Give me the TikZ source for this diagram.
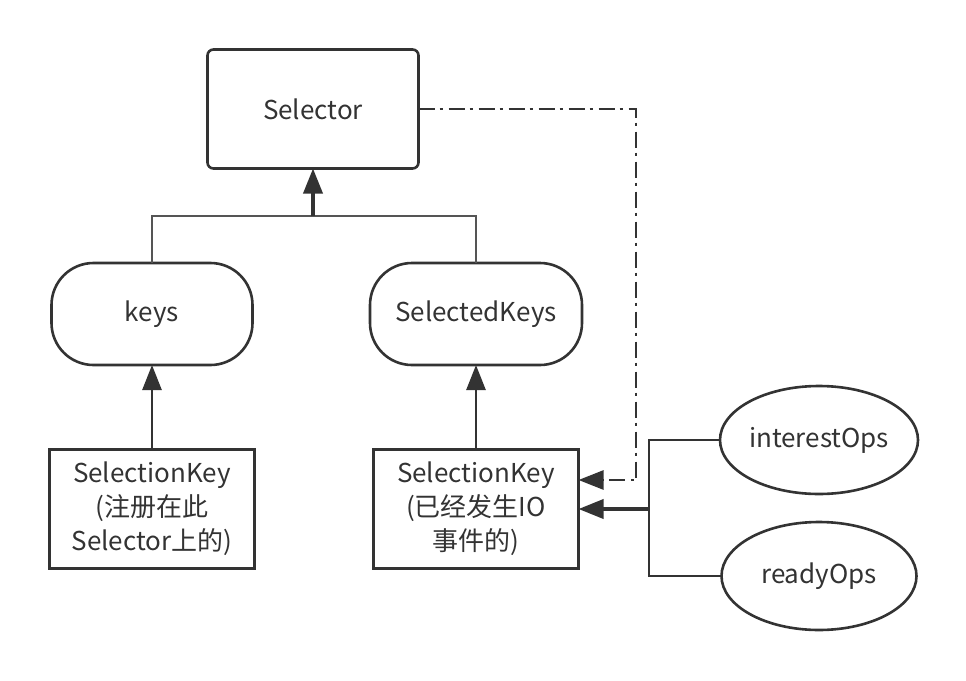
\documentclass[tikz,border=0pt]{standalone}
\usepackage{fontspec}
\setmainfont{Noto Sans CJK SC}
\usetikzlibrary{arrows.meta,calc,shapes.geometric}
\definecolor{ln}{HTML}{333333}
\definecolor{br}{HTML}{555555}
\begin{document}
\begin{tikzpicture}[x=1pt,y=-1pt,
  every node/.style={inner sep=0pt,outer sep=0pt,text=ln,font=\fontsize{26}{34}\selectfont,align=center},
  boxs/.style={draw=ln,line width=2.6pt,minimum width=#1,minimum height=119pt},
  pill/.style={draw=ln,line width=2.6pt,rounded corners=42pt,minimum width=#1,minimum height=102pt},
  oval/.style={draw=ln,line width=2.6pt,ellipse,minimum width=195pt,minimum height=108pt},
  tip/.style={-{Triangle[length=25pt,width=19pt]}},
  conn/.style={draw=ln,line width=2.6pt},
  thick conn/.style={draw=ln,line width=3.6pt},
  branch/.style={draw=br,line width=2pt},
  dd/.style={draw=ln,line width=2.6pt,dash pattern=on 16pt off 5pt on 3pt off 6pt}
]
\useasboundingbox (0,0) rectangle (966,680);
\node[boxs=211pt,rounded corners=6pt] (sel) at (313,109) {Selector};
\node[pill=201pt] (keys) at (152,314) {keys};
\node[pill=212pt] (skeys) at (476,314) {SelectedKeys};
\node[boxs=205pt] (sk1) at (152,509) {SelectionKey\\(注册在此\\Selector上的)};
\node[boxs=205pt] (sk2) at (476,509) {SelectionKey\\(已经发生IO\\事件的)};
\node[oval] (io) at (819,440) {interestOps};
\node[oval] (ro) at (819,576) {readyOps};
\coordinate (j1) at (313,216);
\coordinate (j2) at (649,509);
\coordinate (d) at (636,480);
\path[branch] (keys.north) |- (j1) -| (skeys.north);
\draw[thick conn,tip] (j1) -- (sel.south);
\draw[conn,tip] (sk1.north) -- (keys.south);
\draw[conn,tip] (sk2.north) -- (skeys.south);
\draw[dd,tip] (sel.east) -| (d) -- (d -| sk2.east);
\path[conn] (io.west) -| (j2) |- (ro.west);
\draw[thick conn,tip] (j2) -- (sk2.east);
\end{tikzpicture}
\end{document}
